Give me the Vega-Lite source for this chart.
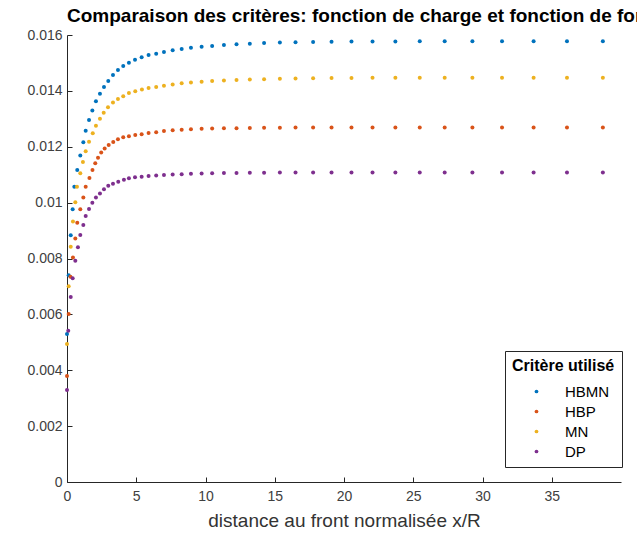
{
  "$schema": "https://vega.github.io/schema/vega-lite/v6.json",
  "autosize": {"type": "none"},
  "padding": {"left": 67, "top": 35, "right": 16, "bottom": 57},
  "width": 554,
  "height": 447,
  "background": "white",
  "config": {
    "view": {"stroke": null},
    "font": "Liberation Sans",
    "axis": {"labelFont": "Liberation Sans", "titleFont": "Liberation Sans"}
  },
  "title": {
    "text": "Comparaison des critères: fonction de charge et fonction de forme",
    "anchor": "start",
    "frame": "group",
    "fontSize": 19,
    "fontWeight": "bold",
    "color": "#000000",
    "font": "Liberation Sans",
    "offset": 2
  },
  "data": {
    "values": [
      {"x": 0, "v": 0.0053, "c": "HBMN"},
      {"x": 0.12, "v": 0.0074, "c": "HBMN"},
      {"x": 0.27, "v": 0.00883, "c": "HBMN"},
      {"x": 0.41, "v": 0.00976, "c": "HBMN"},
      {"x": 0.53, "v": 0.01057, "c": "HBMN"},
      {"x": 0.74, "v": 0.01117, "c": "HBMN"},
      {"x": 0.96, "v": 0.01169, "c": "HBMN"},
      {"x": 1.18, "v": 0.01216, "c": "HBMN"},
      {"x": 1.35, "v": 0.01257, "c": "HBMN"},
      {"x": 1.59, "v": 0.01296, "c": "HBMN"},
      {"x": 1.83, "v": 0.0133, "c": "HBMN"},
      {"x": 2.09, "v": 0.01363, "c": "HBMN"},
      {"x": 2.38, "v": 0.0139, "c": "HBMN"},
      {"x": 2.67, "v": 0.01414, "c": "HBMN"},
      {"x": 2.98, "v": 0.01435, "c": "HBMN"},
      {"x": 3.32, "v": 0.01457, "c": "HBMN"},
      {"x": 3.68, "v": 0.01475, "c": "HBMN"},
      {"x": 4.06, "v": 0.01489, "c": "HBMN"},
      {"x": 4.47, "v": 0.01501, "c": "HBMN"},
      {"x": 4.91, "v": 0.01511, "c": "HBMN"},
      {"x": 5.39, "v": 0.0152, "c": "HBMN"},
      {"x": 5.89, "v": 0.01528, "c": "HBMN"},
      {"x": 6.44, "v": 0.01533, "c": "HBMN"},
      {"x": 7.0, "v": 0.01539, "c": "HBMN"},
      {"x": 7.63, "v": 0.01545, "c": "HBMN"},
      {"x": 8.28, "v": 0.0155, "c": "HBMN"},
      {"x": 8.95, "v": 0.01554, "c": "HBMN"},
      {"x": 9.72, "v": 0.01558, "c": "HBMN"},
      {"x": 10.48, "v": 0.01561, "c": "HBMN"},
      {"x": 11.33, "v": 0.01564, "c": "HBMN"},
      {"x": 12.24, "v": 0.01567, "c": "HBMN"},
      {"x": 13.2, "v": 0.01569, "c": "HBMN"},
      {"x": 14.23, "v": 0.01571, "c": "HBMN"},
      {"x": 15.37, "v": 0.01573, "c": "HBMN"},
      {"x": 16.5, "v": 0.01574, "c": "HBMN"},
      {"x": 17.77, "v": 0.01575, "c": "HBMN"},
      {"x": 19.1, "v": 0.01576, "c": "HBMN"},
      {"x": 20.54, "v": 0.01577, "c": "HBMN"},
      {"x": 22.06, "v": 0.01577, "c": "HBMN"},
      {"x": 23.71, "v": 0.01577, "c": "HBMN"},
      {"x": 25.47, "v": 0.01578, "c": "HBMN"},
      {"x": 27.27, "v": 0.01578, "c": "HBMN"},
      {"x": 29.27, "v": 0.01578, "c": "HBMN"},
      {"x": 31.41, "v": 0.01578, "c": "HBMN"},
      {"x": 33.69, "v": 0.01578, "c": "HBMN"},
      {"x": 36.1, "v": 0.01578, "c": "HBMN"},
      {"x": 38.69, "v": 0.01578, "c": "HBMN"},

      {"x": 0, "v": 0.00379, "c": "HBP"},
      {"x": 0.12, "v": 0.00601, "c": "HBP"},
      {"x": 0.25, "v": 0.00735, "c": "HBP"},
      {"x": 0.43, "v": 0.00804, "c": "HBP"},
      {"x": 0.6, "v": 0.00872, "c": "HBP"},
      {"x": 0.74, "v": 0.00928, "c": "HBP"},
      {"x": 0.96, "v": 0.00976, "c": "HBP"},
      {"x": 1.18, "v": 0.01018, "c": "HBP"},
      {"x": 1.35, "v": 0.01057, "c": "HBP"},
      {"x": 1.62, "v": 0.01088, "c": "HBP"},
      {"x": 1.84, "v": 0.01117, "c": "HBP"},
      {"x": 2.04, "v": 0.01141, "c": "HBP"},
      {"x": 2.24, "v": 0.01161, "c": "HBP"},
      {"x": 2.47, "v": 0.01179, "c": "HBP"},
      {"x": 2.72, "v": 0.01194, "c": "HBP"},
      {"x": 3.01, "v": 0.01206, "c": "HBP"},
      {"x": 3.34, "v": 0.01217, "c": "HBP"},
      {"x": 3.68, "v": 0.01227, "c": "HBP"},
      {"x": 4.06, "v": 0.01234, "c": "HBP"},
      {"x": 4.47, "v": 0.01238, "c": "HBP"},
      {"x": 4.93, "v": 0.01242, "c": "HBP"},
      {"x": 5.39, "v": 0.01245, "c": "HBP"},
      {"x": 5.89, "v": 0.01249, "c": "HBP"},
      {"x": 6.44, "v": 0.01252, "c": "HBP"},
      {"x": 7.0, "v": 0.01256, "c": "HBP"},
      {"x": 7.63, "v": 0.01259, "c": "HBP"},
      {"x": 8.28, "v": 0.01261, "c": "HBP"},
      {"x": 8.95, "v": 0.01263, "c": "HBP"},
      {"x": 9.72, "v": 0.01264, "c": "HBP"},
      {"x": 10.48, "v": 0.01265, "c": "HBP"},
      {"x": 11.33, "v": 0.01266, "c": "HBP"},
      {"x": 12.24, "v": 0.01266, "c": "HBP"},
      {"x": 13.2, "v": 0.01267, "c": "HBP"},
      {"x": 14.23, "v": 0.01268, "c": "HBP"},
      {"x": 15.37, "v": 0.01268, "c": "HBP"},
      {"x": 16.5, "v": 0.01269, "c": "HBP"},
      {"x": 17.77, "v": 0.01269, "c": "HBP"},
      {"x": 19.1, "v": 0.01269, "c": "HBP"},
      {"x": 20.54, "v": 0.01269, "c": "HBP"},
      {"x": 22.06, "v": 0.01269, "c": "HBP"},
      {"x": 23.71, "v": 0.01269, "c": "HBP"},
      {"x": 25.47, "v": 0.01269, "c": "HBP"},
      {"x": 27.27, "v": 0.01269, "c": "HBP"},
      {"x": 29.27, "v": 0.01269, "c": "HBP"},
      {"x": 31.41, "v": 0.01269, "c": "HBP"},
      {"x": 33.69, "v": 0.01269, "c": "HBP"},
      {"x": 36.1, "v": 0.01269, "c": "HBP"},
      {"x": 38.69, "v": 0.01269, "c": "HBP"},

      {"x": 0, "v": 0.00494, "c": "MN"},
      {"x": 0.12, "v": 0.00701, "c": "MN"},
      {"x": 0.27, "v": 0.00842, "c": "MN"},
      {"x": 0.43, "v": 0.00932, "c": "MN"},
      {"x": 0.6, "v": 0.01001, "c": "MN"},
      {"x": 0.72, "v": 0.01057, "c": "MN"},
      {"x": 0.96, "v": 0.01105, "c": "MN"},
      {"x": 1.15, "v": 0.01145, "c": "MN"},
      {"x": 1.35, "v": 0.01184, "c": "MN"},
      {"x": 1.59, "v": 0.01218, "c": "MN"},
      {"x": 1.86, "v": 0.01248, "c": "MN"},
      {"x": 2.09, "v": 0.01275, "c": "MN"},
      {"x": 2.38, "v": 0.013, "c": "MN"},
      {"x": 2.65, "v": 0.01322, "c": "MN"},
      {"x": 2.96, "v": 0.01341, "c": "MN"},
      {"x": 3.32, "v": 0.01358, "c": "MN"},
      {"x": 3.68, "v": 0.01371, "c": "MN"},
      {"x": 4.06, "v": 0.01381, "c": "MN"},
      {"x": 4.47, "v": 0.01392, "c": "MN"},
      {"x": 4.93, "v": 0.01399, "c": "MN"},
      {"x": 5.41, "v": 0.01405, "c": "MN"},
      {"x": 5.89, "v": 0.0141, "c": "MN"},
      {"x": 6.44, "v": 0.01414, "c": "MN"},
      {"x": 7.0, "v": 0.01418, "c": "MN"},
      {"x": 7.63, "v": 0.01423, "c": "MN"},
      {"x": 8.28, "v": 0.01427, "c": "MN"},
      {"x": 8.95, "v": 0.0143, "c": "MN"},
      {"x": 9.72, "v": 0.01433, "c": "MN"},
      {"x": 10.48, "v": 0.01435, "c": "MN"},
      {"x": 11.33, "v": 0.01437, "c": "MN"},
      {"x": 12.24, "v": 0.01439, "c": "MN"},
      {"x": 13.2, "v": 0.01441, "c": "MN"},
      {"x": 14.23, "v": 0.01442, "c": "MN"},
      {"x": 15.37, "v": 0.01443, "c": "MN"},
      {"x": 16.5, "v": 0.01444, "c": "MN"},
      {"x": 17.77, "v": 0.01445, "c": "MN"},
      {"x": 19.1, "v": 0.01446, "c": "MN"},
      {"x": 20.54, "v": 0.01446, "c": "MN"},
      {"x": 22.06, "v": 0.01447, "c": "MN"},
      {"x": 23.71, "v": 0.01447, "c": "MN"},
      {"x": 25.47, "v": 0.01447, "c": "MN"},
      {"x": 27.27, "v": 0.01447, "c": "MN"},
      {"x": 29.27, "v": 0.01447, "c": "MN"},
      {"x": 31.41, "v": 0.01447, "c": "MN"},
      {"x": 33.69, "v": 0.01447, "c": "MN"},
      {"x": 36.1, "v": 0.01447, "c": "MN"},
      {"x": 38.69, "v": 0.01447, "c": "MN"},

      {"x": 0, "v": 0.00329, "c": "DP"},
      {"x": 0.09, "v": 0.00541, "c": "DP"},
      {"x": 0.27, "v": 0.00662, "c": "DP"},
      {"x": 0.41, "v": 0.00729, "c": "DP"},
      {"x": 0.6, "v": 0.00792, "c": "DP"},
      {"x": 0.79, "v": 0.0084, "c": "DP"},
      {"x": 0.96, "v": 0.00884, "c": "DP"},
      {"x": 1.18, "v": 0.0092, "c": "DP"},
      {"x": 1.35, "v": 0.00952, "c": "DP"},
      {"x": 1.59, "v": 0.00977, "c": "DP"},
      {"x": 1.83, "v": 0.01, "c": "DP"},
      {"x": 2.09, "v": 0.01018, "c": "DP"},
      {"x": 2.38, "v": 0.01033, "c": "DP"},
      {"x": 2.67, "v": 0.01048, "c": "DP"},
      {"x": 2.98, "v": 0.0106, "c": "DP"},
      {"x": 3.32, "v": 0.01068, "c": "DP"},
      {"x": 3.7, "v": 0.01075, "c": "DP"},
      {"x": 4.11, "v": 0.01082, "c": "DP"},
      {"x": 4.47, "v": 0.01087, "c": "DP"},
      {"x": 4.91, "v": 0.01091, "c": "DP"},
      {"x": 5.39, "v": 0.01093, "c": "DP"},
      {"x": 5.89, "v": 0.01095, "c": "DP"},
      {"x": 6.44, "v": 0.01097, "c": "DP"},
      {"x": 7.0, "v": 0.01099, "c": "DP"},
      {"x": 7.63, "v": 0.01101, "c": "DP"},
      {"x": 8.28, "v": 0.01102, "c": "DP"},
      {"x": 8.95, "v": 0.01103, "c": "DP"},
      {"x": 9.72, "v": 0.01104, "c": "DP"},
      {"x": 10.48, "v": 0.01105, "c": "DP"},
      {"x": 11.33, "v": 0.01106, "c": "DP"},
      {"x": 12.24, "v": 0.01106, "c": "DP"},
      {"x": 13.2, "v": 0.01107, "c": "DP"},
      {"x": 14.23, "v": 0.01107, "c": "DP"},
      {"x": 15.37, "v": 0.01108, "c": "DP"},
      {"x": 16.5, "v": 0.01108, "c": "DP"},
      {"x": 17.77, "v": 0.01108, "c": "DP"},
      {"x": 19.1, "v": 0.01108, "c": "DP"},
      {"x": 20.54, "v": 0.01108, "c": "DP"},
      {"x": 22.06, "v": 0.01108, "c": "DP"},
      {"x": 23.71, "v": 0.01108, "c": "DP"},
      {"x": 25.47, "v": 0.01108, "c": "DP"},
      {"x": 27.27, "v": 0.01108, "c": "DP"},
      {"x": 29.27, "v": 0.01108, "c": "DP"},
      {"x": 31.41, "v": 0.01108, "c": "DP"},
      {"x": 33.69, "v": 0.01108, "c": "DP"},
      {"x": 36.1, "v": 0.01108, "c": "DP"},
      {"x": 38.69, "v": 0.01108, "c": "DP"}
    ]
  },
  "mark": {"type": "point", "filled": true, "shape": "circle", "size": 16, "opacity": 1},
  "encoding": {
    "x": {
      "field": "x",
      "type": "quantitative",
      "scale": {"domain": [0, 40], "nice": false, "zero": false},
      "axis": {
        "title": "distance au front normalisée x/R",
        "values": [0, 5, 10, 15, 20, 25, 30, 35],
        "grid": false,
        "tickSize": -5,
        "labelPadding": 12,
        "labelFontSize": 14,
        "labelColor": "#404040",
        "titleFontSize": 19,
        "titleFontWeight": "normal",
        "titleColor": "#333333",
        "titlePadding": 8,
        "domainColor": "#262626",
        "tickColor": "#262626",
        "labelFlush": false
      }
    },
    "y": {
      "field": "v",
      "type": "quantitative",
      "scale": {"domain": [0, 0.016], "nice": false},
      "axis": {
        "title": null,
        "values": [0, 0.002, 0.004, 0.006, 0.008, 0.01, 0.012, 0.014, 0.016],
        "format": "~g",
        "grid": false,
        "tickSize": -5,
        "labelPadding": 10,
        "labelFontSize": 14,
        "labelColor": "#404040",
        "domainColor": "#262626",
        "tickColor": "#262626"
      }
    },
    "color": {
      "field": "c",
      "type": "nominal",
      "scale": {"domain": ["HBMN", "HBP", "MN", "DP"], "range": ["#0072BD", "#D95319", "#EDB120", "#7E2F8E"]},
      "legend": {
        "title": "Critère utilisé",
        "orient": "none",
        "legendX": 438,
        "legendY": 316,
        "direction": "vertical",
        "strokeColor": "#262626",
        "fillColor": "#ffffff",
        "padding": 7,
        "titleFontSize": 16,
        "titleFontWeight": "bold",
        "titleColor": "#000000",
        "titlePadding": 10,
        "titleLimit": 200,
        "labelFontSize": 15,
        "labelColor": "#000000",
        "symbolSize": 14,
        "symbolType": "circle",
        "symbolOffset": 17,
        "labelOffset": 21,
        "rowPadding": 4
      }
    }
  }
}
